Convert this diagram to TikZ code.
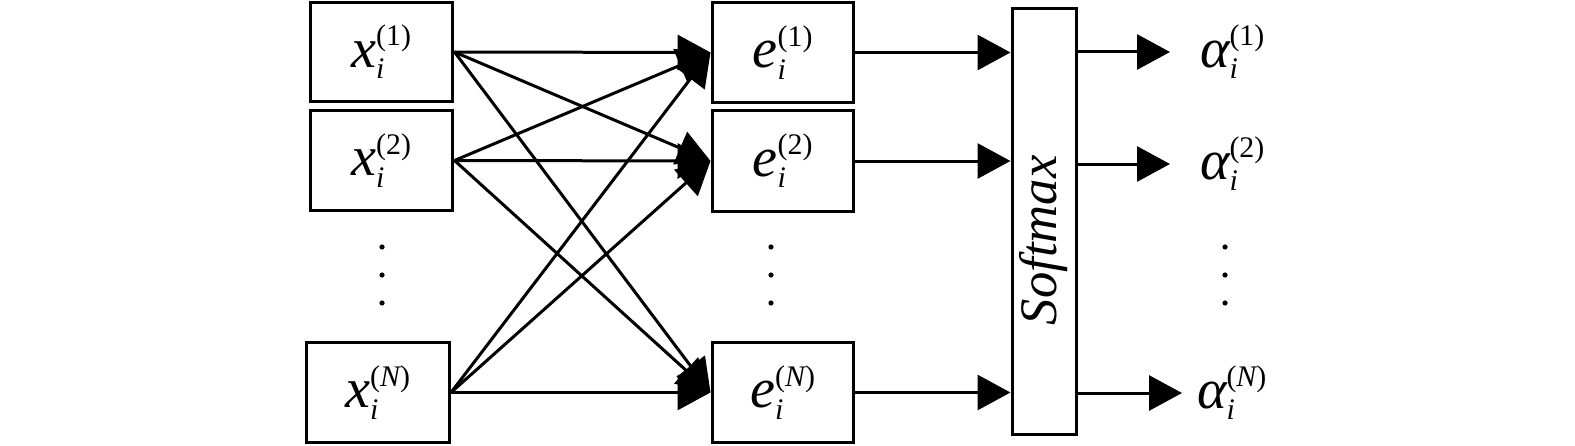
\documentclass[tikz,border=0pt]{standalone}
\usepackage{amsmath}
\usepackage{graphicx}
\usepackage{fontspec}
\setmainfont{Liberation Serif}
\usetikzlibrary{arrows.meta, positioning}
\DeclareMathSizes{32}{32}{17}{13}

\newcommand{\vlab}[3]{$\textit{#1}_{\textit{#2}}^{#3}$}
\newcommand{\nidx}{\textup{(}\textit{N}\textup{)}}

\begin{document}
\begin{tikzpicture}[x=0.02cm, y=-0.02cm, line width=0.06cm,
  font=\fontsize{32}{38}\selectfont,
  inbox/.style={draw, inner sep=0pt, minimum width=2.86cm, minimum height=2cm},
  scbox/.style={draw, inner sep=0pt, minimum width=2.84cm, minimum height=2.02cm},
  wlab/.style={anchor=west, inner xsep=0.6cm, outer sep=0pt},
  arr/.style={-{Triangle[length=0.66cm, width=0.7cm]}}]

\useasboundingbox (0,0) rectangle (1575,446);

% Inputs
\node[inbox] (x1) at (381.5,52) {\vlab{x}{i}{\textup{(1)}}};
\node[inbox] (x2) at (381.5,160.5) {\vlab{x}{i}{\textup{(2)}}};
\node[inbox] (xN) at (378,392.5) {\vlab{x}{i}{\nidx}};

% Scores
\node[scbox] (e1) at (783,52.5) {\vlab{e}{i}{\textup{(1)}}};
\node[scbox] (e2) at (783,161) {\vlab{e}{i}{\textup{(2)}}};
\node[scbox] (eN) at (783,392.5) {\vlab{e}{i}{\nidx}};

% Softmax
\node[draw, inner sep=0pt, minimum width=1.28cm, minimum height=8.54cm] (soft) at (1044,221.5)
  {\rotatebox{90}{\fontsize{30}{34}\selectfont\textit{Softmax}\hspace{0.75cm}}};

% Weights
\node[wlab] (a1) at (1170,52) {\vlab{α}{i}{\textup{(1)}}};
\node[wlab] (a2) at (1170,164) {\vlab{α}{i}{\textup{(2)}}};
\node[wlab, inner xsep=0.3cm] (aN) at (1182,393) {\vlab{α}{i}{\nidx}};

% Dots
\foreach \c in {382,771,1225}
  \foreach \r in {247,275,303}
    \fill (\c,\r) circle (2.6);

% Arrows
\foreach \s in {x1,x2,xN}
  \foreach \t in {e1,e2,eN}
    \draw[arr] (\s.east) -- (\t.west);
\foreach \t in {e1,e2,eN}
  \draw[arr] (\t.east) -- (\t.east -| soft.west);
\foreach \a in {a1,a2,aN}
  \draw[arr] (\a.west -| soft.east) -- (\a.west);

\end{tikzpicture}
\end{document}
